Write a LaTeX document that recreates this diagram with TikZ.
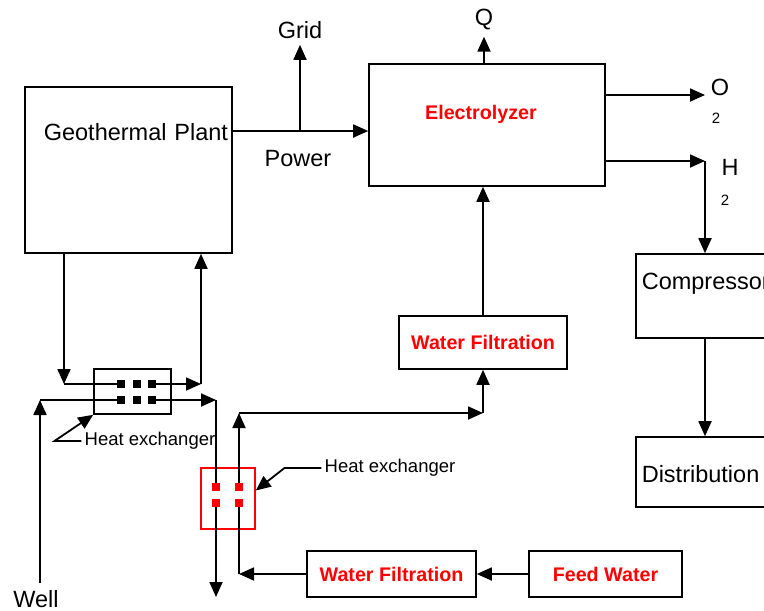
\documentclass[tikz,border=0pt]{standalone}
\usepackage{fontspec}
\setmainfont{Liberation Sans}
\usetikzlibrary{arrows.meta, positioning, calc}

\begin{document}
\begin{tikzpicture}[
  x=1pt, y=-1pt,
  font=\fontsize{23.5}{28}\selectfont,
  box/.style={draw, line width=1.6pt, inner sep=0pt, align=center},
  redtxt/.style={text=red, font=\fontsize{19.7}{24}\selectfont\bfseries},
  lbl/.style={inner sep=6pt},
  sub/.style={inner sep=2pt, font=\fontsize{15}{18}\selectfont},
  note/.style={inner sep=3pt, font=\fontsize{18.5}{22}\selectfont},
  sqb/.style={fill=black, minimum size=8pt, inner sep=0pt},
  sqr/.style={fill=red, minimum size=8pt, inner sep=0pt},
  arr/.style={-{Triangle[length=15pt,width=13pt]}, line width=1.8pt},
  ln/.style={line width=1.8pt},
]
\useasboundingbox (0,0) rectangle (764,611);

% --- main blocks ---
\node[box, text width=199pt, inner xsep=4pt, align=right, text height=53pt, text depth=113pt] (plant) at (128.5,170) {Geothermal Plant};
\node[box, redtxt, minimum width=236pt, text height=55pt, text depth=67pt] (elec) at (487,125) {Electrolyzer\hspace*{12pt}};
\node[box, redtxt, minimum width=168pt, minimum height=53pt] (wfup) at (483,342.5) {Water Filtration};
\node[box, redtxt, minimum width=169pt, minimum height=46pt] (wflow) at (391.5,574) {Water Filtration};
\node[box, redtxt, minimum width=153pt, minimum height=46pt] (feed) at (605.5,574) {Feed Water};
\node[box, anchor=west, text width=168pt, inner xsep=6pt, align=left, text height=35pt, text depth=49pt] (comp) at (635,296) {Compressor};
\node[box, anchor=west, text width=168pt, inner xsep=6pt, align=left, text height=45pt, text depth=25pt] (dist) at (635,472) {Distribution};

% --- heat exchangers ---
\node[box, minimum width=77pt, minimum height=45pt] (hxb) at (132.5,391.5) {};
\node[box, draw=red, minimum width=54pt, minimum height=61pt] (hxr) at (228,498.5) {};
\foreach \c/\x in {1/121,2/137,3/152}
  \foreach \r/\y in {1/384,2/400}
    \node[sqb] (b\r\c) at (\x,\y) {};
\foreach \c/\x in {1/216,2/239}
  \foreach \r/\y in {1/487,2/503}
    \node[sqr] (r\r\c) at (\x,\y) {};

% --- labels ---
\node[lbl] (grid) at (300,30) {Grid};
\node[lbl] (power) at (298,159) {Power};
\node[lbl] (q) at (484,20) {Q};
\node[lbl] (oxy) at (720,87) {O};
\node[sub] (oxysub) at (716,118) {2};
\node[lbl] (hyd) at (730,167) {H};
\node[sub] (hydsub) at (725,200) {2};
\node[lbl] (well) at (36,599) {Well};
\node[note] (hxlb) at (150,441) {Heat exchanger};
\node[note] (hxlr) at (390,468) {Heat exchanger};

% --- points where the lines turn ---
\coordinate (pw) at (300,131);
\coordinate (o2) at (705,95);
\coordinate (h2) at (705,161);
\coordinate (hotin) at (64,384);
\coordinate (hotout) at (201,384);
\coordinate (wellbot) at (40,583);
\coordinate (coldin) at (40,400);
\coordinate (coldout) at (216,400);
\coordinate (sink) at (216,597);
\coordinate (wfret) at (239,574);
\coordinate (riser) at (239,413);
\coordinate (turn) at (483,413);

% --- power and products ---
\draw[arr] (plant.east |- pw) -- (elec.west |- pw);
\draw[arr] (pw) -- (grid);
\draw[arr] (elec.north -| q) -- (q);
\draw[arr] (elec.east |- o2) -- (o2);
\draw[arr] (elec.east |- h2) -- (h2);
\draw[arr] (h2) -- (h2 |- comp.north);
\draw[arr] (h2 |- comp.south) -- (h2 |- dist.north);

% --- geothermal loop ---
\draw[arr] (hotin |- plant.south) -- (hotin);
\draw[ln] (hotin) -- (b11);
\draw[arr] (b13) -- (hotout);
\draw[arr] (hotout) -- (hotout |- plant.south);

% --- well brine ---
\draw[arr] (wellbot) -- (coldin);
\draw[ln] (coldin) -- (b21);
\draw[arr] (b23) -- (coldout);
\draw[ln] (coldout) -- (r11);
\draw[arr] (r21) -- (sink);

% --- feed water ---
\draw[arr] (feed) -- (wflow);
\draw[arr] (wflow.west) -- (wfret);
\draw[ln] (wfret) -- (r22);
\draw[arr] (r12) -- (riser);
\draw[arr] (riser) -- (turn);
\draw[arr] (turn) -- (wfup.south);
\draw[arr] (wfup.north) -- (wfup.north |- elec.south);

% --- heat exchanger callouts ---
\draw[arr] (hxlb.west) -- ++(-27,0) -- (hxb.south west);
\draw[arr] (hxlr.west) -- ++(-37,0) -- ([yshift=8pt]hxr.east);
\end{tikzpicture}
\end{document}
